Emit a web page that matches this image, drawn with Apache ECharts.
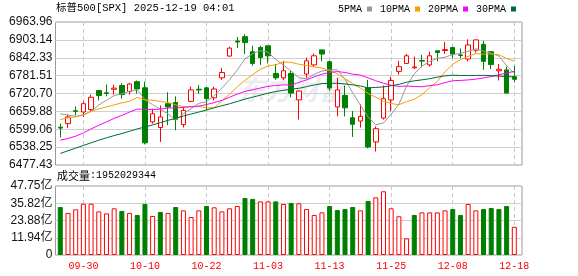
<!DOCTYPE html>
<html><head><meta charset="utf-8">
<script src="https://cdn.jsdelivr.net/npm/echarts@6/dist/echarts.min.js"></script>
<style>html,body{margin:0;padding:0;background:#fff}#c{width:578px;height:276px}</style>
</head><body><div id="c"></div>
<script>
const categories = ['09-25','09-26','09-29','09-30','10-01','10-02','10-03','10-06','10-07','10-08','10-09','10-10',
'10-13','10-14','10-15','10-16','10-17','10-20','10-21','10-22','10-23','10-24','10-27','10-28','10-29','10-30','10-31',
'11-03','11-04','11-05','11-06','11-07','11-10','11-11','11-12','11-13','11-14','11-17','11-18','11-19','11-20','11-21',
'11-24','11-25','11-26','11-28','12-01','12-02','12-03','12-04','12-05','12-08','12-09','12-10','12-11','12-12','12-15',
'12-16','12-17','12-18'];
const opens = [6606,6618,6662,6658,6666,6731,6723,6735,6748,6727,6761,6740,6624,6605,6686,6690,6615,6694,6735,6740,
6706,6774,6848,6899,6914,6863,6877,6883,6789,6774,6789,6699,6787,6818,6869,6829,6675,6714,6638,6627,
6740,6556,6637,6699,6796,6823,6808,6833,6818,6866,6867,6877,6852,6838,6868,6888,6863,6798,6801,6778];
const closes = [6603,6641,6660,6686,6708,6714,6721,6739,6717,6753,6736,6553,6652,6641,6675,6632,6663,6733,6733,6703,
6736,6792,6875,6896,6894,6823,6843,6849,6774,6798,6722,6729,6832,6849,6855,6739,6733,6672,6616,6643,
6539,6601,6703,6765,6812,6849,6811,6831,6849,6860,6870,6855,6850,6886,6903,6830,6819,6803,6722,6769];
const lows = [6571,6604,6646,6641,6661,6697,6711,6717,6703,6717,6720,6548,6618,6556,6613,6596,6605,6691,6720,6663,
6697,6767,6846,6875,6855,6815,6818,6823,6767,6767,6708,6632,6774,6812,6830,6729,6643,6643,6573,6605,
6534,6523,6632,6661,6785,6821,6804,6810,6812,6830,6855,6841,6841,6830,6860,6801,6804,6765,6722,6759];
const highs = [6618,6649,6677,6694,6717,6733,6751,6750,6756,6757,6765,6761,6669,6680,6725,6711,6677,6744,6750,6742,
6744,6807,6880,6913,6922,6883,6883,6884,6821,6832,6798,6731,6843,6857,6870,6832,6774,6748,6661,6684,
6767,6609,6748,6778,6832,6855,6846,6852,6863,6867,6896,6880,6874,6905,6905,6900,6864,6821,6812,6815];
const ma5 = [6651,6648,6643,6648,6659.6,6681.7,6697.8,6713.5,6719.8,6728.8,6733.3,6699.7,6682.4,6667.1,6651.3,6630.4,
6652.4,6668.6,6687.1,6692.7,6713.7,6739.3,6767.7,6800.4,6838.7,6856.0,6866.4,6861.2,6836.7,6817.5,6797.2,6774.3,
6770.9,6786.0,6797.2,6800.6,6801.5,6769.5,6722.9,6680.6,6640.7,6614.4,6620.4,6650.2,6684.0,6745.9,6787.8,6813.5,
6830.3,6840.0,6844.3,6853.1,6856.9,6864.3,6872.9,6864.8,6857.6,6848.1,6815.3,6788.5];
const ma10 = [6632,6638,6641,6648,6660,6668,6675,6682,6689,6694.2,6707.5,6698.8,6698.0,6693.5,6690.1,6681.9,6676.1,
6675.5,6677.1,6672.0,6672.0,6695.9,6718.2,6743.7,6765.7,6784.8,6802.9,6814.5,6818.5,6828.1,6826.6,6820.3,6816.0,
6811.3,6807.4,6798.9,6787.9,6770.2,6754.5,6738.9,6720.7,6708.0,6695.0,6686.6,6682.3,6693.3,6701.1,6717.0,6740.3,
6762.0,6795.1,6820.4,6835.2,6847.3,6856.5,6854.5,6855.3,6852.5,6839.8,6830.7];
const ma20 = [6561.9,6567.5,6575.4,6586.6,6600.2,6612.5,6623.8,6636.2,6646.3,6657.6,6667.7,6666.6,6665.5,6667.7,6671.1,
6672.2,6673.4,6675.6,6677.9,6683.1,6689.8,6697.3,6708.1,6718.6,6727.9,6733.3,6739.5,6745.0,6747.8,6750.1,6749.3,
6758.1,6767.1,6777.5,6786.5,6791.9,6795.4,6792.3,6786.5,6783.5,6773.7,6764.1,6755.5,6748.9,6744.8,6746.1,6744.5,
6743.6,6747.4,6750.5,6757.9,6764.2,6765.1,6766.9,6769.4,6773.9,6778.2,6784.7,6790.0,6796.3];
const ma30 = [6516.8,6525.8,6534.8,6543.9,6552.9,6561.9,6569.8,6577.6,6584.4,6592.3,6600.2,6606.9,6613.7,6621.6,6629.4,
6636.2,6644.1,6650.8,6657.6,6664.4,6672.2,6679.0,6685.7,6693.6,6701.5,6708.3,6715.0,6721.8,6727.4,6731.4,6735.4,
6738.3,6744.1,6749.5,6754.4,6755.2,6755.6,6753.4,6750.0,6746.3,6739.8,6741.4,6743.1,6747.2,6751.8,6759.0,6763.9,
6767.2,6771.1,6776.3,6780.8,6782.9,6782.1,6781.7,6782.0,6782.3,6781.4,6779.9,6778.2,6777.2];
const volumes = [3320000000,2910000000,3160000000,3550000000,3550000000,3020000000,2880000000,3230000000,3050000000,
2910000000,2770000000,3530000000,2700000000,2980000000,2910000000,3320000000,3090000000,2630000000,3090000000,
3390000000,3300000000,3020000000,3230000000,3390000000,3940000000,3880000000,3710000000,3710000000,3710000000,
3530000000,3600000000,3580000000,3180000000,2770000000,2950000000,3390000000,3110000000,3180000000,3320000000,
3090000000,3740000000,3990000000,4410000000,3230000000,2680000000,1150000000,2770000000,2950000000,2950000000,
2950000000,3090000000,3180000000,2770000000,3530000000,3090000000,3180000000,3250000000,3180000000,3390000000,1952029344];
const volUp = [0,1,1,1,1,1,1,1,0,1,0,0,1,0,1,0,1,1,1,0,1,1,1,1,0,0,1,1,0,1,0,1,1,1,1,0,0,0,0,1,
0,1,1,1,1,1,0,1,1,1,1,0,0,1,1,0,0,0,0,1];
const priceTicks = ['6477.43','6538.25','6599.06','6659.88','6720.70','6781.51','6842.33','6903.14','6963.96'];
const volTicks = ['0','11.94亿','23.88亿','35.82亿','47.75亿'];
const titleText = '标普500[SPX] 2025-12-19 04:01';
const maNames = ['5PMA','10PMA','20PMA','30PMA'];
const maColors = ['#999999','#f5a000','#ff00ff','#006b35'];

const pMin = parseFloat(priceTicks[0]), pMax = parseFloat(priceTicks[priceTicks.length-1]);
const pInt = (pMax - pMin) / (priceTicks.length - 1);
const vMax = 4775000000, vInt = vMax / (volTicks.length - 1);
const pad = a => ['-'].concat(a, ['-']);
const cats = [''].concat(categories, ['']);
const showIdx = (i) => i >= 4 && (i - 4) % 8 === 0;
const MONO = '"Liberation Mono","Noto Sans CJK SC",monospace';
const SANS = '"Liberation Sans","Noto Sans CJK SC",sans-serif';
const RED = '#ff0000', GREEN = '#008000';

const candleData = pad(categories.map((_, i) => [opens[i], closes[i], lows[i], highs[i]]));
const volData = pad(volumes.map((v, i) => ({
  value: v,
  itemStyle: volUp[i] ? {color: '#ffffff', borderColor: RED, borderWidth: 1}
                      : {color: GREEN, borderColor: GREEN, borderWidth: 1}
})));

const chart = echarts.init(document.getElementById('c'), null, {renderer: 'canvas'});
const bgGrid = {left: 55.5, right: 56, show: true, borderColor: '#9a9a9a', borderWidth: 1, backgroundColor: 'transparent'};
chart.setOption({
  animation: false,
  backgroundColor: '#ffffff',
  title: [
    {text: titleText, left: 56, top: 3, padding: 0,
     textStyle: {fontSize: 10.5, fontWeight: 'normal', color: '#000', fontFamily: MONO}},
    {text: '{a|成交量}{b|:' + volumes[volumes.length-1] + '}', left: 57, top: 170, padding: 0,
     textStyle: {fontWeight: 'normal',
       rich: {a: {fontSize: 11, fontWeight: 'normal', color: '#000', fontFamily: '"Noto Sans CJK SC"'},
              b: {fontSize: 10, fontWeight: 'normal', color: '#000', fontFamily: MONO}}}}
  ],
  legend: {
    data: maNames, left: 338, top: 4, padding: 0, icon: 'rect', itemWidth: 5, itemHeight: 5,
    itemGap: 8, align: 'right', textStyle: {fontSize: 10, color: '#000', fontFamily: MONO}
  },
  graphic: [{type: 'text', left: 238, top: 76, z: 0, silent: true,
    style: {text: '东方财富', font: 'italic bold 27px "Noto Sans CJK SC"', fill: 'rgba(170,170,185,0.22)'}}],
  grid: [
    Object.assign({top: 22, height: 143}, bgGrid),
    Object.assign({top: 186, height: 69}, bgGrid),
    {left: 52.6, width: 469.4, top: 22, height: 143, show: false},
    {left: 52.6, width: 469.4, top: 186, height: 69, show: false}
  ],
  xAxis: [
    {type: 'value', gridIndex: 0, show: false, min: 0, max: 1},
    {type: 'value', gridIndex: 1, show: false, min: 0, max: 1},
    {type: 'category', gridIndex: 2, data: cats, boundaryGap: false,
     axisLine: {show: false}, axisTick: {show: false}, axisLabel: {show: false},
     splitLine: {show: true, interval: showIdx, lineStyle: {color: '#c8c8c8', type: [4, 3], width: 1}}},
    {type: 'category', gridIndex: 3, data: cats, boundaryGap: false,
     axisLine: {show: false}, axisTick: {show: false},
     axisLabel: {show: true, interval: showIdx, color: RED, fontSize: 10, fontFamily: MONO, margin: 6},
     splitLine: {show: true, interval: showIdx, lineStyle: {color: '#c8c8c8', type: [4, 3], width: 1}}}
  ],
  yAxis: [
    {type: 'value', gridIndex: 0, min: pMin, max: pMax, interval: pInt,
     axisLine: {show: false}, axisTick: {show: false},
     axisLabel: {margin: 3, fontSize: 12, color: '#111', fontFamily: SANS,
       formatter: v => priceTicks[Math.round((v - pMin) / pInt)]},
     splitLine: {show: true, lineStyle: {color: '#cfcfcf', width: 1}}},
    {type: 'value', gridIndex: 1, min: 0, max: vMax, interval: vInt,
     axisLine: {show: false}, axisTick: {show: false},
     axisLabel: {margin: 3, fontSize: 12, color: '#111', fontFamily: SANS,
       formatter: v => volTicks[Math.round(v / vInt)]},
     splitLine: {show: true, lineStyle: {color: '#cfcfcf', width: 1}}},
    {type: 'value', gridIndex: 2, min: pMin, max: pMax, show: false, splitLine: {show: false}},
    {type: 'value', gridIndex: 3, min: 0, max: vMax, show: false, splitLine: {show: false}}
  ],
  series: [
    {type: 'candlestick', name: 'K', xAxisIndex: 2, yAxisIndex: 2, data: candleData, barWidth: 5, z: 3,
     itemStyle: {color: '#ffffff', color0: GREEN, borderColor: RED, borderColor0: GREEN, borderWidth: 1}},
  ].concat([ma5, ma10, ma20, ma30].map((arr, k) => ({
    type: 'line', name: maNames[k], xAxisIndex: 2, yAxisIndex: 2, data: pad(arr), showSymbol: false,
    symbol: 'none', z: 4, lineStyle: {color: maColors[k], width: 1}, itemStyle: {color: maColors[k]}
  }))).concat([
    {type: 'bar', name: 'VOL', xAxisIndex: 3, yAxisIndex: 3, data: volData, barWidth: 5, z: 3}
  ])
});
</script></body></html>
